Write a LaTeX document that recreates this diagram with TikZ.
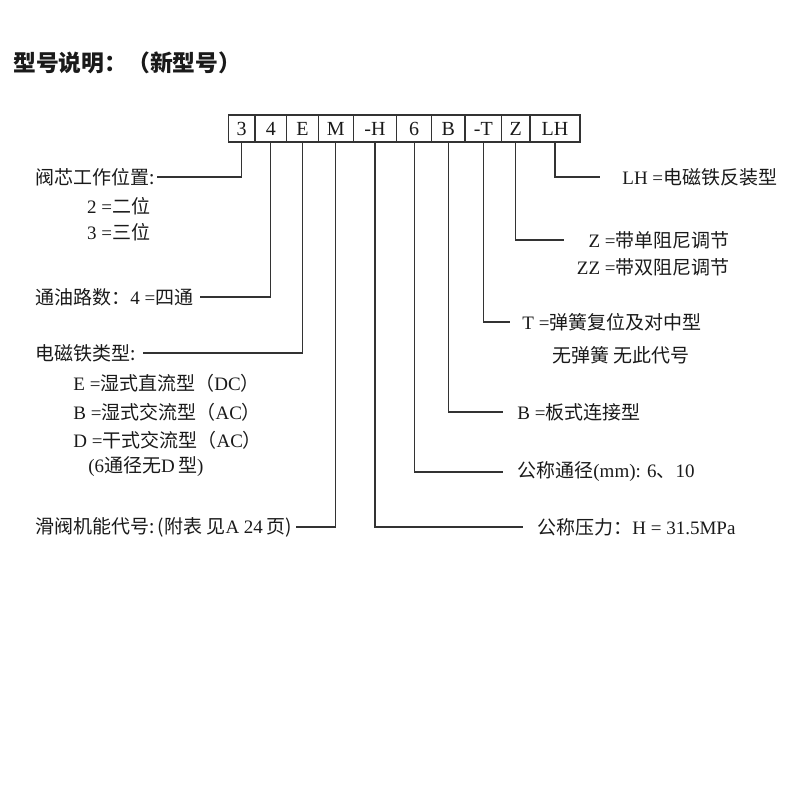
\documentclass[tikz,border=0pt]{standalone}
\usepackage{fontspec}
\usepackage{tikz}
\usetikzlibrary{positioning}
\setmainfont{Liberation Serif}
\newfontfamily\cjk{Noto Sans CJK SC}
\newcommand{\zh}[1]{{\cjk #1}}
\definecolor{inkText}{HTML}{1A1A1A}
\definecolor{inkLine}{HTML}{333333}
\tikzset{
  cell/.style={draw=inkLine, line width=0.6pt, minimum height=13.5pt, inner sep=0pt, outer sep=0pt,
               font=\fontsize{10}{12}\selectfont, text=inkText},
  lbl/.style={inner sep=0pt, font=\fontsize{9.5}{11}\selectfont, text=inkText},
  lead/.style={draw=inkLine, line width=0.6pt},
}

\begin{document}
\begin{tikzpicture}[x=0.5pt, y=-0.5pt]
        \useasboundingbox (0,0) rectangle (800,800);
        \node[anchor=west, inner sep=0pt, font=\cjk\bfseries\fontsize{11.4}{13}\selectfont, text=inkText]
          (title) at (13,63) {型号说明：（新型号）};
        % code boxes
        \node[cell, minimum width=13.35pt, anchor=west] (b3) at (228.3,128.5) {3};
        \foreach \name/\txt/\w/\prev in {b4/4/15.85pt/b3, bE/E/15.8pt/b4, bM/M/17.5pt/bE,
            bH/-H/21.7pt/bM, b6/6/17.5pt/bH, bB/B/16.65pt/b6, bT/-T/18.35pt/bB,
            bZ/Z/14.15pt/bT, bLH/LH/25pt/bZ}{
          \node[cell, minimum width=\w, right=0pt of \prev] (\name) {\txt};
        }
        % left labels
        \node[lbl, anchor=west] (lv) at (35,177) {\zh{阀芯工作位置:}};
        \node[lbl, anchor=west] (l2) at (86.7,206) {2 =\zh{二位}};
        \node[lbl, anchor=west] (l3) at (86.7,232) {3 =\zh{三位}};
        \node[lbl, anchor=west] (lt) at (35,297) {\zh{通油路数：}4 =\zh{四通}};
        \node[lbl, anchor=west] (ld) at (35,353) {\zh{电磁铁类型:}};
        \node[lbl, anchor=west] (lE) at (73,383) {E =\zh{湿式直流型（}DC\zh{）}};
        \node[lbl, anchor=west] (lB) at (73,412) {B =\zh{湿式交流型（}AC\zh{）}};
        \node[lbl, anchor=west] (lD) at (73,440) {D =\zh{干式交流型（}AC\zh{）}};
        \node[lbl, anchor=west] (l6) at (88,467) {(6\zh{通径无}D\,\zh{型})};
        \node[lbl, anchor=west] (lm) at (35,527) {\zh{滑阀机能代号:}\,\zh{(附表 见}A 24\,\zh{页)}};
        % right labels
        \node[lbl, anchor=west] (rLH) at (622,177) {LH =\zh{电磁铁反装型}};
        \node[lbl, anchor=east] (rZ) at (730,240) {Z =\zh{带单阻尼调节}};
        \node[lbl, anchor=east] (rZZ) at (730,267) {ZZ =\zh{带双阻尼调节}};
        \node[lbl, anchor=west] (rT) at (522,322) {T =\zh{弹簧复位及对中型}};
        \node[lbl, anchor=west] (rT2) at (552,355) {\zh{无弹簧 无此代号}};
        \node[lbl, anchor=west] (rB) at (517,412) {B =\zh{板式连接型}};
        \node[lbl, anchor=west] (r6) at (517,472) {\zh{公称通径}(mm): 6\zh{、}10};
        \node[lbl, anchor=west] (rH) at (537,527) {\zh{公称压力：}H = 31.5MPa};
        % leaders
        \draw[lead] (b3.south) |- ([xshift=1pt]lv.east);
        \draw[lead] (b4.south) |- ([xshift=3pt]lt.east);
        \draw[lead] (bE.south) |- ([xshift=3.5pt]ld.east);
        \draw[lead] (bM.south) |- ([xshift=2pt]lm.east);
        \draw[lead] (bH.south) |- ([xshift=-7pt]rH.west);
        \draw[lead] (b6.south) |- ([xshift=-7pt]r6.west);
        \draw[lead] (bB.south) |- ([xshift=-7pt]rB.west);
        \draw[lead] (bT.south) |- ([xshift=-6pt]rT.west);
        \draw[lead] (bZ.south) |- ([xshift=-12pt]rZ.west);
        \draw[lead] (bLH.south) |- ([xshift=-11pt]rLH.west);
      \end{tikzpicture}
\end{document}
